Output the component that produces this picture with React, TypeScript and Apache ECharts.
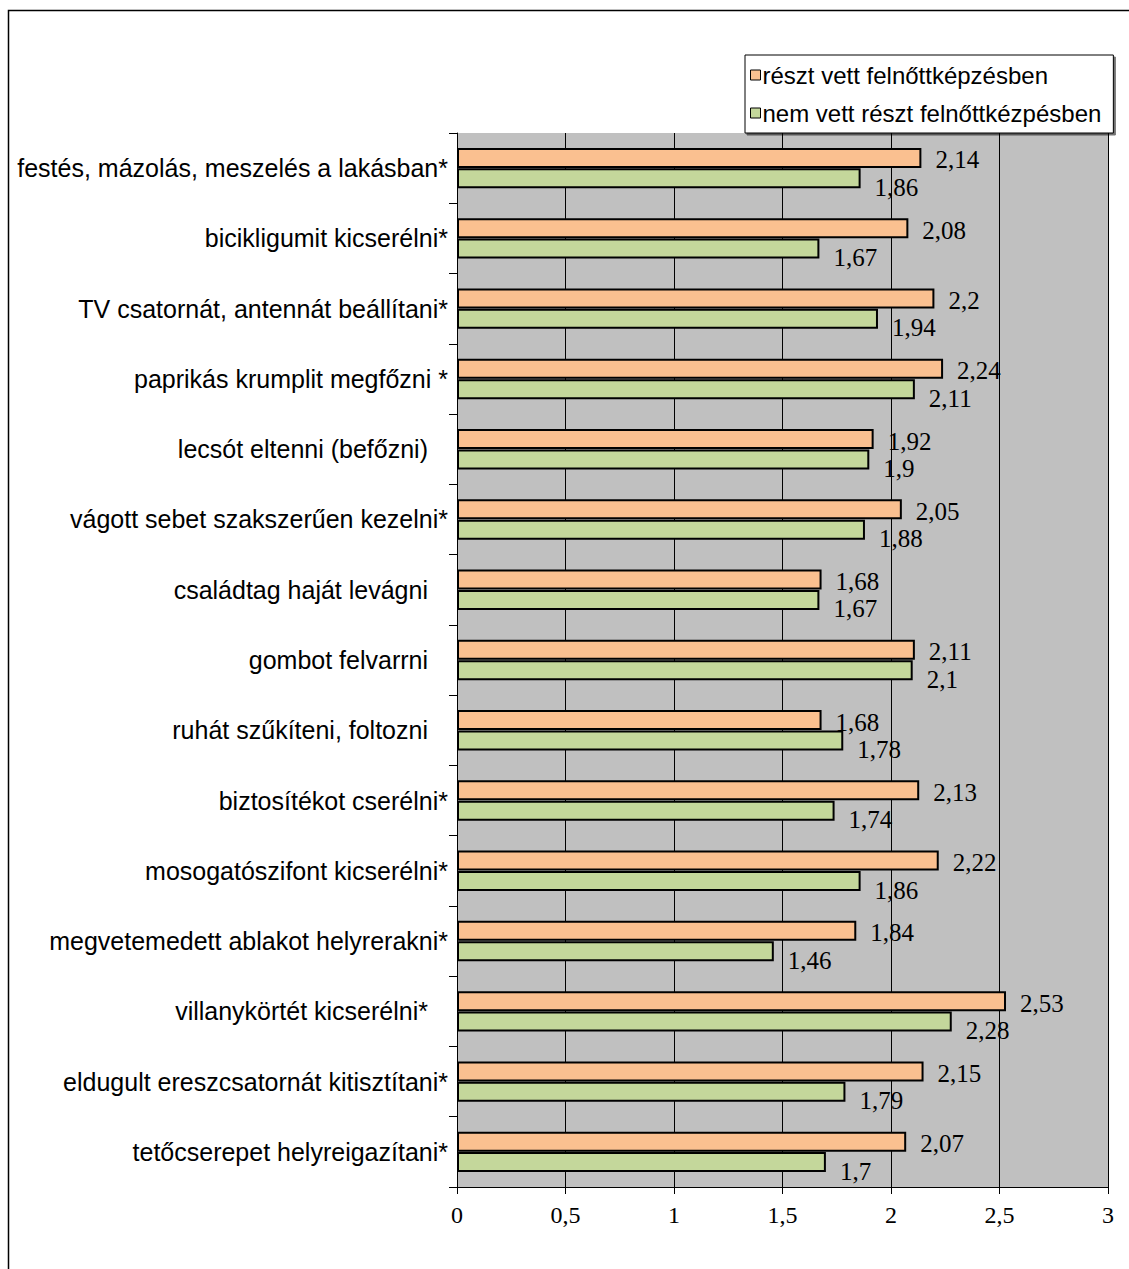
import React, { useEffect, useRef } from "react";
import * as echarts from "echarts";

const categories = [
  "festés, mázolás, meszelés a lakásban*",
  "bicikligumit kicserélni*",
  "TV csatornát, antennát beállítani*",
  "paprikás krumplit megfőzni *",
  "lecsót eltenni (befőzni) ",
  "vágott sebet szakszerűen kezelni*",
  "családtag haját levágni ",
  "gombot felvarrni ",
  "ruhát szűkíteni, foltozni ",
  "biztosítékot cserélni*",
  "mosogatószifont kicserélni*",
  "megvetemedett ablakot helyrerakni*",
  "villanykörtét kicserélni* ",
  "eldugult ereszcsatornát kitisztítani*",
  "tetőcserepet helyreigazítani*",
];

const seriesNames = ["részt vett felnőttképzésben", "nem vett részt felnőttkézpésben"];

const participated = [2.14, 2.08, 2.2, 2.24, 1.92, 2.05, 1.68, 2.11, 1.68, 2.13, 2.22, 1.84, 2.53, 2.15, 2.07];
const notParticipated = [1.86, 1.67, 1.94, 2.11, 1.9, 1.88, 1.67, 2.1, 1.78, 1.74, 1.86, 1.46, 2.28, 1.79, 1.7];

const xTicks = { min: 0, max: 3, interval: 0.5 };

const comma = (v: number) => String(v).replace(".", ",");

export default function App() {
  const ref = useRef<HTMLDivElement>(null);
  useEffect(() => {
    if (!ref.current) return;
    const chart = echarts.init(ref.current, null, { renderer: "svg" });
    const sans = "'Liberation Sans', Arial, sans-serif";
    const serif = "'Liberation Serif', 'Times New Roman', serif";
    chart.setOption({
      animation: false,
      backgroundColor: "#ffffff",
      graphic: [
        {
          type: "rect",
          z: -10,
          shape: { x: 8.5, y: 10.5, width: 1300, height: 1400 },
          style: { fill: "none", stroke: "#000", lineWidth: 1.5 },
        },
      ],
      legend: {
        orient: "vertical",
        left: 745,
        top: 55,
        padding: [8, 12, 8, 5],
        itemGap: 14,
        itemWidth: 10,
        itemHeight: 10,
        backgroundColor: "#ffffff",
        borderColor: "#000",
        borderWidth: 1,
        shadowColor: "rgba(0,0,0,0.55)",
        shadowOffsetX: 2,
        shadowOffsetY: 2,
        shadowBlur: 0,
        z: 10,
        icon: "rect",
        itemStyle: { borderWidth: 1, borderColor: "#000" },
        textStyle: { fontFamily: sans, fontSize: 24, color: "#000", padding: [0, 0, 0, -3] },
        data: seriesNames,
      },
      grid: {
        left: 457,
        top: 133,
        width: 651,
        height: 1054,
        show: true,
        backgroundColor: "#C0C0C0",
        borderWidth: 0,
      },
      xAxis: {
        type: "value",
        min: xTicks.min,
        max: xTicks.max,
        interval: xTicks.interval,
        axisLine: { show: true, lineStyle: { color: "#000", width: 1 } },
        axisTick: { show: true, length: 7, lineStyle: { color: "#000" } },
        splitLine: { show: true, lineStyle: { color: "#000", width: 1 } },
        axisLabel: {
          fontFamily: serif,
          fontSize: 24,
          color: "#000",
          margin: 16,
          formatter: (v: number) => comma(v),
        },
      },
      yAxis: {
        type: "category",
        inverse: true,
        data: categories,
        axisLine: { show: true, lineStyle: { color: "#000", width: 1 } },
        axisTick: { show: true, length: 8, lineStyle: { color: "#000" } },
        axisLabel: {
          fontFamily: sans,
          fontSize: 25,
          color: "#000",
          margin: 9,
          formatter: (v: string) => (v.endsWith(" ") ? `{p|${v.trim()}}` : v),
          rich: {
            p: { fontFamily: sans, fontSize: 25, color: "#000", padding: [0, 20, 0, 0] },
          },
        },
      },
      series: [
        {
          name: seriesNames[0],
          type: "bar",
          data: participated,
          barWidth: 20,
          barGap: "2%",
          barCategoryGap: "40%",
          itemStyle: { color: "#FAC090", borderColor: "#000", borderWidth: 2 },
          label: {
            show: true,
            position: "right",
            distance: 14,
            offset: [0, 2],
            fontFamily: serif,
            fontSize: 25,
            color: "#000",
            formatter: (p: any) => comma(p.value),
          },
        },
        {
          name: seriesNames[1],
          type: "bar",
          data: notParticipated,
          barWidth: 20,
          barGap: "2%",
          itemStyle: { color: "#C4D79B", borderColor: "#000", borderWidth: 2 },
          label: {
            show: true,
            position: "right",
            distance: 14,
            offset: [0, 9],
            fontFamily: serif,
            fontSize: 25,
            color: "#000",
            formatter: (p: any) => comma(p.value),
          },
        },
      ],
    });
    return () => chart.dispose();
  }, []);
  return (
    <div
      ref={ref}
      style={{ position: "fixed", left: 0, top: 0, width: 1129, height: 1269 }}
    />
  );
}
